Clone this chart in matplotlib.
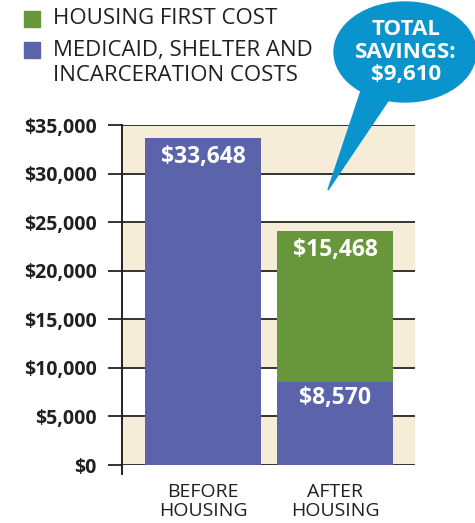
import matplotlib.pyplot as plt
from matplotlib.patches import Ellipse, Polygon, Rectangle

plt.rcParams['font.family'] = ['Open Sans', 'DejaVu Sans']

categories = ["BEFORE\nHOUSING", "AFTER\nHOUSING"]
other_costs = [33648, 8570]        # medicaid, shelter and incarceration
housing_cost = [0, 15468]          # housing first
savings = 9610
ticks = [0, 5000, 10000, 15000, 20000, 25000, 30000, 35000]

BLUE = "#5B64AB"
GREEN = "#67973A"
BEIGE = "#F6EDD8"
BUBBLE = "#0A94CD"
INK = "#231F20"

W, H = 475, 523
fig = plt.figure(figsize=(W / 100, H / 100), dpi=100)
ax = fig.add_axes([122 / W, (H - 465) / H, (415 - 122) / W, (465 - 125) / H])

# alternating bands
for lo, hi in zip(ticks[:-1], ticks[1:]):
    if (lo // 5000) % 2 == 0:
        ax.axhspan(lo, hi, color=BEIGE, zorder=0, lw=0)
for t in ticks:
    ax.axhline(t, color="#333333", lw=1.4, zorder=1)

x = [0, 1]
ax.bar(x, other_costs, width=0.88, color=BLUE, zorder=3)
ax.bar(x, housing_cost, bottom=other_costs, width=0.88, color=GREEN, zorder=3)

x0, x1 = -0.614, 1.606
ax.set_xlim(x0, x1)
ax.set_ylim(0, 35000)
ax.set_yticks(ticks)
ax.set_yticklabels([f"${t:,}" for t in ticks], fontsize=14, fontweight="bold",
                   color=INK)
ax.tick_params(axis="y", length=10, width=1.4, color="#333333", pad=8)
ax.set_xticks(x)
ax.set_xticklabels(categories, fontsize=14, linespacing=1.1, color=INK)
ax.tick_params(axis="x", length=0, pad=13)
for s in ["top", "right", "bottom"]:
    ax.spines[s].set_visible(False)
ax.spines["left"].set_color("#222222")
ax.spines["left"].set_linewidth(1.4)
ax.plot([x0, x0], [0, -900], color="#222222", lw=1.4, clip_on=False)

# value labels
lab = dict(color="white", ha="center", va="center", fontsize=16.5,
           fontweight="bold", zorder=4)
ax.text(0, other_costs[0] - 1900, f"${other_costs[0]:,}", **lab)
ax.text(1, other_costs[1] + housing_cost[1] - 1900, f"${housing_cost[1]:,}", **lab)
ax.text(1, other_costs[1] - 1700, f"${other_costs[1]:,}", **lab)

# overlay in pixel coords for legend and bubble
ov = fig.add_axes([0, 0, 1, 1], zorder=10)
ov.set_xlim(0, W)
ov.set_ylim(H, 0)
ov.axis("off")

ov.add_patch(Rectangle((24, 11), 16, 16, color=GREEN))
ov.add_patch(Rectangle((24, 42), 16, 16, color=BLUE))
ov.text(53, 19, "HOUSING FIRST COST", fontsize=16, va="center", color=INK)
ov.text(53, 63, "MEDICAID, SHELTER AND\nINCARCERATION COSTS", fontsize=16,
        va="center", color=INK, linespacing=1.2)

ov.add_patch(Polygon([(362, 88), (392, 95), (328, 190)], closed=True, color=BUBBLE))
ov.add_patch(Ellipse((405, 52), 142, 100, color=BUBBLE))
ov.text(406, 52, f"TOTAL\nSAVINGS:\n${savings:,}", color="white", fontsize=16,
        fontweight="bold", ha="center", va="center", linespacing=1.08)

fig.savefig("out.png", dpi=100)
